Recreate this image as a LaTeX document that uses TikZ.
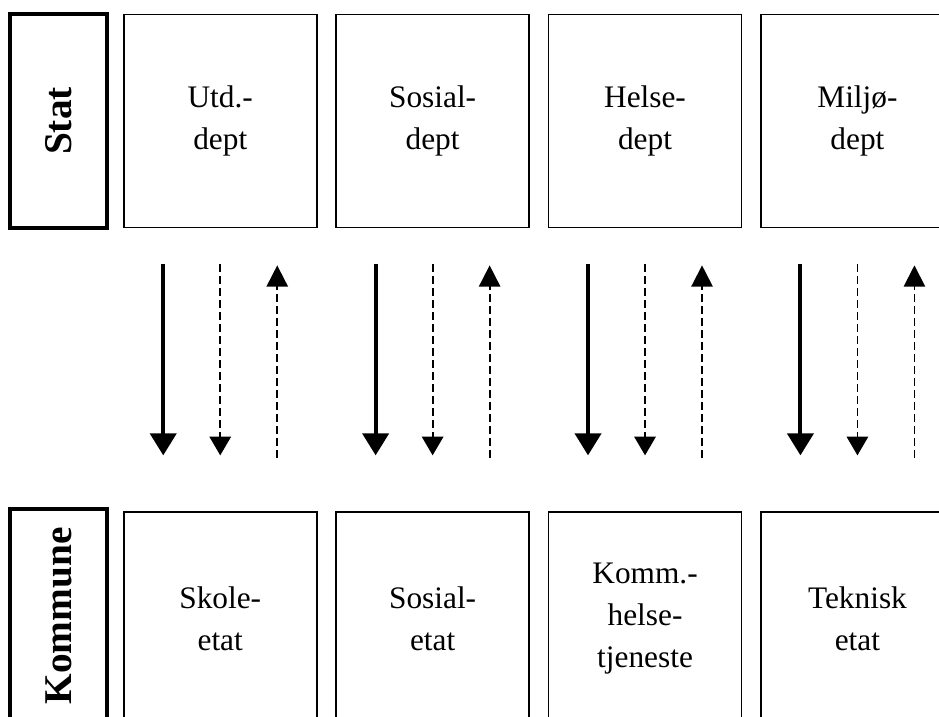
\documentclass[tikz,border=0pt]{standalone}
\usepackage{fontspec}
\setmainfont{Liberation Serif}
\usetikzlibrary{arrows.meta,calc,positioning}

\begin{document}
\begin{tikzpicture}[x=0.75pt, y=-0.75pt, node distance=13.25pt]
  \tikzstyle{dept}=[draw, line width=1.3pt, inner sep=0pt, align=center,
                    minimum width=144.75pt, minimum height=159.75pt,
                    font=\fontsize{23.5}{31.5}\selectfont]
  \tikzstyle{nivaa}=[draw, line width=2.8pt, inner sep=0pt, rotate=90,
                     minimum width=160.5pt, minimum height=72.75pt,
                     font=\fontsize{29.5}{34}\selectfont\bfseries]
  \tikzstyle{styring}=[line width=3pt, -{Triangle[width=19.5pt,length=16.5pt]}]
  \tikzstyle{info}=[line width=1.4pt, dash pattern=on 6pt off 3pt,
                    -{Triangle[width=16pt,length=14pt]}]
  \tikzstyle{rapport}=[line width=1.4pt, dash pattern=on 6pt off 3pt,
                       -{Triangle[width=16pt,length=16pt]}]
  \useasboundingbox (0,0) rectangle (939,717);
  \clip (0,0) rectangle (939,717);
  % staten
  \node[nivaa] (stat) at (58.5,121) {Stat};
  \node[dept, right=10.5pt of stat.south] (utd) {Utd.-\\dept};
  \node[dept, right=of utd] (sosdept) {Sosial-\\dept};
  \node[dept, right=of sosdept] (helse) {Helse-\\dept};
  \node[dept, right=of helse] (miljo) {Miljø-\\dept};
  % kommunen
  \node[nivaa] (kommune) at (58.5,616) {Kommune};
  \node[dept, below=212.25pt of utd] (skole) {Skole-\\etat};
  \node[dept, below=212.25pt of sosdept] (sosetat) {Sosial-\\etat};
  \node[dept, below=212.25pt of helse] (kommhelse) {Komm.-\\helse-\\tjeneste};
  \node[dept, below=212.25pt of miljo] (teknisk) {Teknisk\\etat};
  \foreach \oppe/\nede in {utd/skole, sosdept/sosetat, helse/kommhelse, miljo/teknisk}{
    \draw[styring] ($(\oppe.south)+(-57,36)$) -- ($(\nede.north)+(-57,-56)$);
    \draw[info] ($(\oppe.south)+(0,36)$) -- ($(\nede.north)+(0,-56)$);
    \draw[rapport] ($(\nede.north)+(57,-53)$) -- ($(\oppe.south)+(57,37)$);
  }
\end{tikzpicture}
\end{document}
